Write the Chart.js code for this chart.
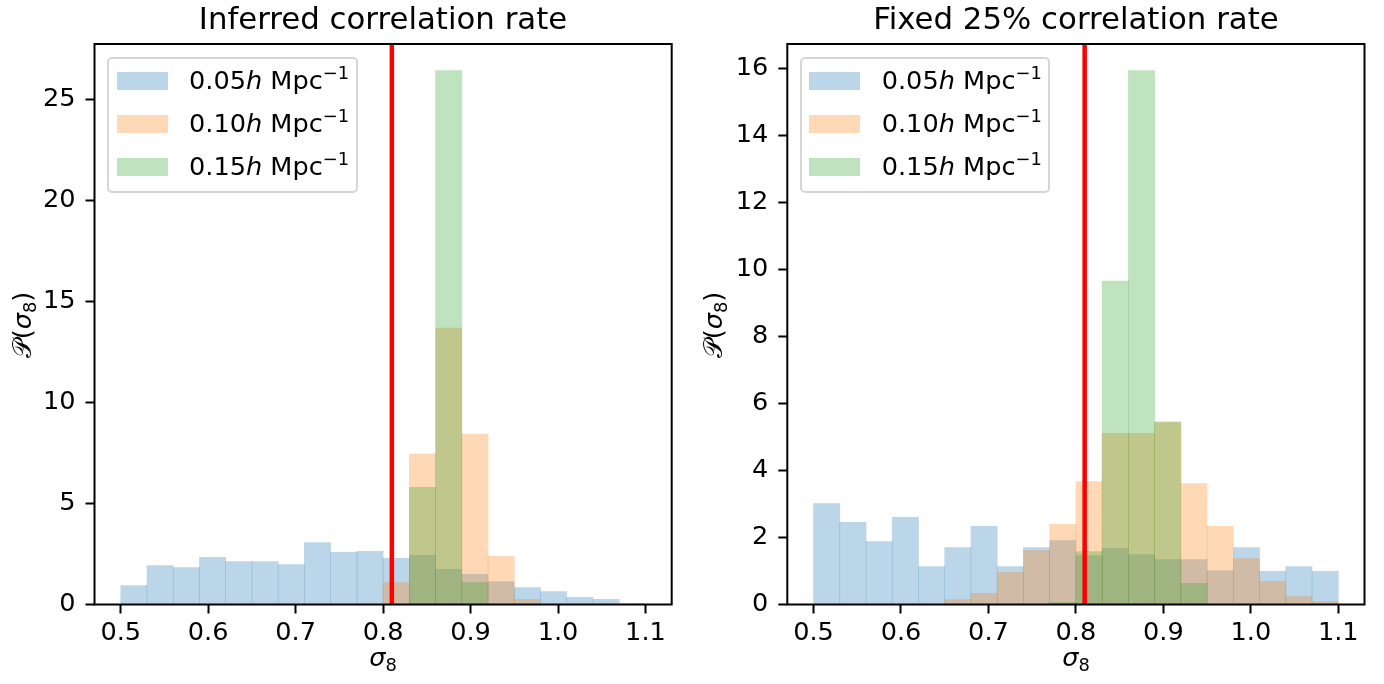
<!DOCTYPE html>
<html>
<head>
<meta charset="utf-8">
<script src="https://cdn.jsdelivr.net/npm/chart.js@4.4.1/dist/chart.umd.min.js"></script>
<style>
  html, body { margin: 0; padding: 0; background: #fff; }
  #fig { position: relative; width: 1384px; height: 684px; overflow: hidden; font-family: 'DejaVu Sans', sans-serif; color: #000; }
  canvas { position: absolute; top: 0; }
  .title { position: absolute; top: 3px; width: 600px; text-align: center; font-size: 30.8px; line-height: 30.8px; white-space: nowrap; }
  .xlabel { position: absolute; top: 645px; width: 200px; text-align: center; font-size: 25.6px; line-height: 25.6px; white-space: nowrap; }
  .ylabel { position: absolute; top: 310px; width: 200px; height: 30px; line-height: 30px; text-align: center; font-size: 25.6px; white-space: nowrap; transform: rotate(-90deg); }
  .legend { position: absolute; top: 56.7px; width: 250.4px; height: 136.6px; box-sizing: border-box; border: 2px solid #d6d6d6; border-radius: 5px; background: rgba(255,255,255,0.8); }
  .legend .sw { position: absolute; left: 7.4px; width: 51px; height: 18.3px; }
  .legend .lab { position: absolute; left: 79.7px; font-size: 25.6px; line-height: 25.6px; white-space: nowrap; }
  .sup { font-size: 17.9px; position: relative; top: -10.7px; line-height: 0; }
  .sub { font-size: 17.9px; position: relative; top: 5px; line-height: 0; }
</style>
</head>
<body>
<div id="fig">
  <canvas id="inferred" width="692" height="684" style="left:0px"></canvas>
  <canvas id="fixed" width="692" height="684" style="left:692px"></canvas>
  <div class="title" style="left:83px">Inferred correlation rate</div>
  <div class="title" style="left:776px">Fixed 25% correlation rate</div>
  <div class="xlabel" style="left:283px"><i>σ</i><span class="sub">8</span></div>
  <div class="xlabel" style="left:976px"><i>σ</i><span class="sub">8</span></div>
  <div class="ylabel" style="left:-78px">𝒫(<i>σ</i><span class="sub">8</span>)</div>
  <div class="ylabel" style="left:613px">𝒫(<i>σ</i><span class="sub">8</span>)</div>
  <div class="legend" id="legInferred" style="left:107.3px"></div>
  <div class="legend" id="legFixed" style="left:800px"></div>
</div>
<script>
// histogram bins (centres of 0.03-wide bins from 0.50 to 1.10)
const binCenters = [0.515, 0.545, 0.575, 0.605, 0.635, 0.665, 0.695, 0.725, 0.755, 0.785,
                    0.815, 0.845, 0.875, 0.905, 0.935, 0.965, 0.995, 1.025, 1.055, 1.085];
const xTicks = [0.5, 0.6, 0.7, 0.8, 0.9, 1.0, 1.1];
const sigma8True = 0.81;
const scaleLabels = ['0.05', '0.10', '0.15'];

// left panel: inferred correlation rate
const inferred005 = [0.94, 1.93, 1.83, 2.33, 2.13, 2.13, 1.98, 3.07, 2.58, 2.63,
                     2.28, 2.43, 1.74, 1.49, 1.14, 0.84, 0.64, 0.35, 0.25, 0.05];
const inferred010 = [0, 0, 0, 0, 0, 0, 0, 0, 0, 0,
                     1.09, 7.44, 13.68, 8.43, 2.38, 0.25, 0, 0, 0, 0];
const inferred015 = [0, 0, 0, 0, 0, 0, 0, 0, 0, 0,
                     0, 5.80, 26.42, 1.09, 0, 0, 0, 0, 0, 0];
const inferredYTicks = [0, 5, 10, 15, 20, 25];
const inferredYMax = 27.74;

// right panel: fixed 25% correlation rate
const fixed005 = [3.01, 2.45, 1.88, 2.60, 1.13, 1.70, 2.33, 1.13, 1.70, 1.91,
                  1.46, 1.67, 1.49, 1.34, 1.34, 1.01, 1.70, 0.99, 1.13, 0.99];
const fixed010 = [0, 0, 0, 0, 0, 0.15, 0.33, 0.96, 1.61, 2.39,
                  3.67, 5.11, 5.11, 5.43, 3.61, 2.33, 1.37, 0.69, 0.24, 0.09];
const fixed015 = [0, 0, 0, 0, 0, 0, 0, 0, 0, 0.06,
                  1.58, 9.65, 15.94, 5.45, 0.63, 0, 0, 0, 0, 0];
const fixedYTicks = [0, 2, 4, 6, 8, 10, 12, 14, 16];
const fixedYMax = 16.73;

const fills = ['rgba(31,119,180,0.3)', 'rgba(255,127,14,0.3)', 'rgba(44,160,44,0.3)'];

Chart.defaults.font.family = "'DejaVu Sans', sans-serif";
Chart.defaults.color = '#000';

// black box round the plot area, drawn on top like matplotlib spines
const framePlugin = {
  id: 'frame',
  afterDraw(chart) {
    const a = chart.chartArea, ctx = chart.ctx;
    ctx.save();
    ctx.strokeStyle = '#000';
    ctx.lineWidth = 2;
    ctx.strokeRect(a.left, a.top, a.right - a.left, a.bottom - a.top);
    ctx.restore();
  }
};

function toPoints(vals) {
  return binCenters.map((x, i) => ({ x: x, y: vals[i] }));
}

function drawPanel(id, series, yMax, yTicks, areaLeft, padRight) {
  const datasets = [{
    type: 'line',
    data: [{ x: sigma8True, y: 0 }, { x: sigma8True, y: yMax }],
    borderColor: '#ff0000',
    borderWidth: 4.5,
    pointRadius: 0,
    order: 0
  }];
  series.forEach((vals, i) => {
    datasets.push({
      type: 'bar',
      data: toPoints(vals),
      backgroundColor: fills[i],
      borderWidth: 0,
      barPercentage: 1,
      categoryPercentage: 1,
      grouped: false,
      order: 3 - i // blue drawn first, green last
    });
  });

  return new Chart(document.getElementById(id), {
    type: 'bar',
    data: { datasets: datasets },
    plugins: [framePlugin],
    options: {
      responsive: false,
      animation: false,
      devicePixelRatio: 1,
      layout: { padding: { left: 0, top: 44, right: padRight, bottom: 0 } },
      plugins: { legend: { display: false }, title: { display: false }, tooltip: { enabled: false } },
      scales: {
        x: {
          type: 'linear', min: 0.47, max: 1.13, offset: false,
          afterBuildTicks: s => { s.ticks = xTicks.map(v => ({ value: v })); },
          afterFit: s => { s.height = 684 - 604.5; },
          ticks: { callback: v => Number(v).toFixed(1), font: { size: 25.6 }, color: '#000',
                   padding: 4, maxRotation: 0, autoSkip: false },
          grid: { offset: false, drawOnChartArea: false, drawTicks: true, tickLength: 9,
                  tickWidth: 2, tickColor: '#000' },
          border: { display: false }
        },
        y: {
          type: 'linear', min: 0, max: yMax,
          afterBuildTicks: s => { s.ticks = yTicks.map(v => ({ value: v })); },
          afterFit: s => { s.width = areaLeft; },
          ticks: { font: { size: 25.6 }, color: '#000', padding: 10 },
          grid: { drawOnChartArea: false, drawTicks: true, tickLength: 9,
                  tickWidth: 2, tickColor: '#000' },
          border: { display: false }
        }
      }
    }
  });
}

function buildLegend(id) {
  const box = document.getElementById(id);
  const baselines = [90, 133, 176];
  scaleLabels.forEach((lab, i) => {
    const sw = document.createElement('div');
    sw.className = 'sw';
    sw.style.top = (baselines[i] - 18.3 - 58.7) + 'px';
    sw.style.background = fills[i];
    box.appendChild(sw);
    const t = document.createElement('div');
    t.className = 'lab';
    t.style.top = (baselines[i] - 21.66 - 58.7) + 'px';
    t.innerHTML = lab + '<i>h</i> Mpc<span class="sup">−1</span>';
    box.appendChild(t);
  });
}

drawPanel('inferred', [inferred005, inferred010, inferred015], inferredYMax, inferredYTicks, 94.5, 20.3);
drawPanel('fixed', [fixed005, fixed010, fixed015], fixedYMax, fixedYTicks, 95.3, 19.5);
buildLegend('legInferred');
buildLegend('legFixed');
</script>
</body>
</html>
